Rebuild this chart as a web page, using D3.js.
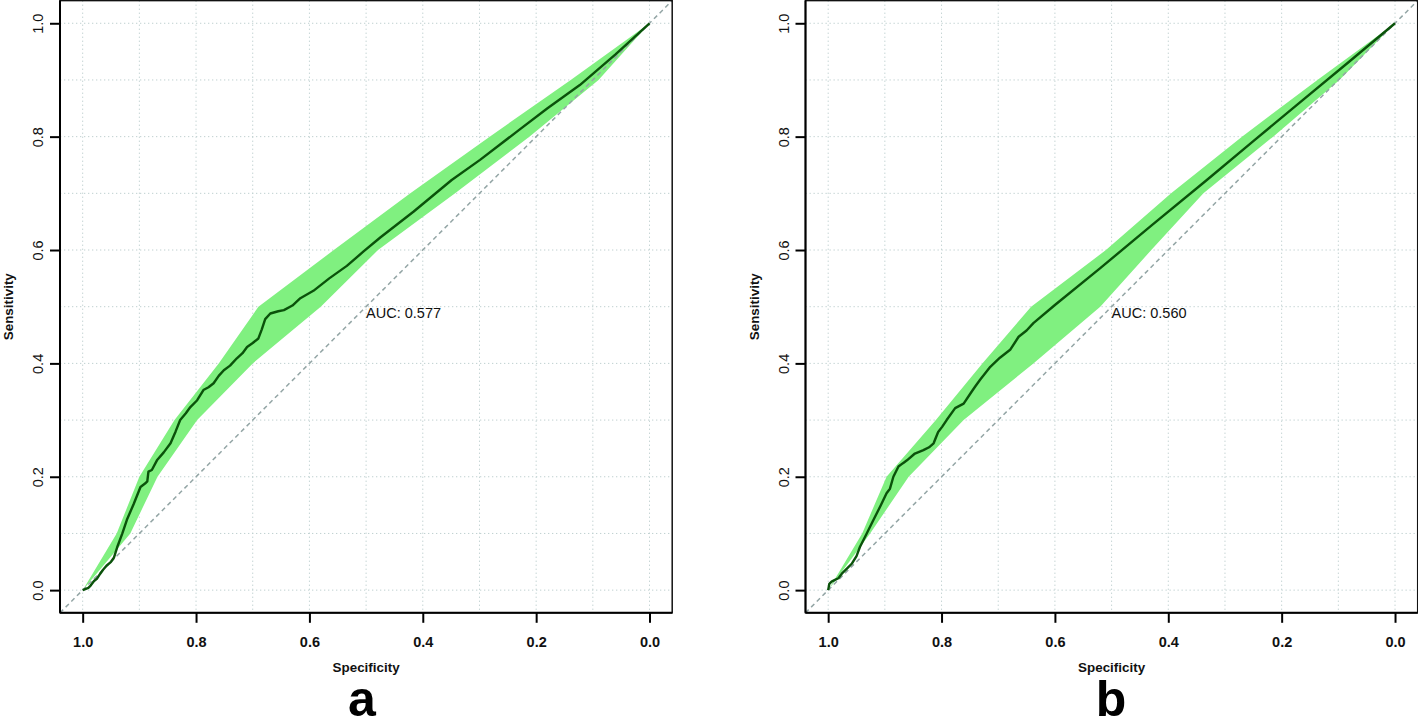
<!DOCTYPE html>
<html>
<head>
<meta charset="utf-8">
<script src="https://cdn.jsdelivr.net/npm/d3@7"></script>
<style>
  html, body { margin: 0; padding: 0; background: #fff; }
  svg { display: block; font-family: "Liberation Sans", Arial, Helvetica, sans-serif; }
</style>
</head>
<body>
<svg id="chart" width="1418" height="719"></svg>
<script>
// ---------------- DATA ----------------
// Panel a: ROC curve (specificity, sensitivity)
const specA = [1.000,0.990,0.986,0.980,0.975,0.969,0.964,0.958,0.950,0.945,0.939,0.930,0.922,0.910,0.898,0.890,0.886,0.884,0.878,0.869,0.857,0.845,0.836,0.828,0.818,0.810,0.798,0.787,0.778,0.769,0.760,0.751,0.740,0.728,0.718,0.710,0.700,0.690,0.684,0.678,0.669,0.655,0.645,0.630,0.616,0.593,0.565,0.534,0.505,0.475,0.416,0.349,0.299,0.230,0.180,0.123,0.060,0.000];
const sensA = [0.000,0.004,0.008,0.016,0.020,0.029,0.036,0.043,0.050,0.057,0.076,0.100,0.124,0.152,0.182,0.188,0.192,0.209,0.212,0.229,0.243,0.259,0.280,0.300,0.312,0.323,0.335,0.353,0.358,0.365,0.378,0.388,0.396,0.409,0.418,0.429,0.436,0.444,0.460,0.478,0.488,0.492,0.494,0.502,0.515,0.528,0.550,0.572,0.597,0.622,0.668,0.7235,0.759,0.812,0.850,0.891,0.945,1.000];
// Panel b: ROC curve
const specB = [1.000,0.998,0.994,0.988,0.982,0.976,0.967,0.958,0.950,0.944,0.932,0.920,0.908,0.897,0.891,0.885,0.876,0.868,0.861,0.847,0.832,0.822,0.814,0.806,0.799,0.791,0.776,0.761,0.747,0.740,0.732,0.714,0.697,0.679,0.664,0.650,0.638,0.600,0.520,0.430,0.332,0.250,0.173,0.080,0.000];
const sensB = [0.000,0.011,0.015,0.018,0.021,0.029,0.038,0.047,0.060,0.076,0.100,0.124,0.148,0.171,0.179,0.200,0.218,0.224,0.229,0.241,0.247,0.252,0.259,0.279,0.288,0.300,0.321,0.329,0.350,0.360,0.371,0.394,0.410,0.424,0.447,0.458,0.471,0.503,0.568,0.643,0.7235,0.792,0.856,0.933,1.000];
// Confidence band of specificity at fixed sensitivities
const ciSens     = [0, 0.1, 0.2, 0.3, 0.4, 0.5, 0.6, 0.7, 0.8, 0.9, 1.0];
const ciSpecHighA = [1.000,0.940,0.900,0.838,0.760,0.690,0.557,0.422,0.282,0.139,0.000];
const ciSpecLowA  = [1.000,0.916,0.868,0.798,0.700,0.580,0.479,0.343,0.212,0.090,0.000];
const ciSpecHighB = [1.000,0.940,0.897,0.810,0.728,0.642,0.510,0.395,0.270,0.137,0.000];
const ciSpecLowB  = [1.000,0.926,0.858,0.761,0.638,0.520,0.430,0.338,0.215,0.098,0.000];
const aucLabels = ["AUC: 0.577", "AUC: 0.560"];
const panelLetters = ["a", "b"];
const tickValues = [0, 0.2, 0.4, 0.6, 0.8, 1.0];
const gridValues = [0,0.1,0.2,0.3,0.4,0.5,0.6,0.7,0.8,0.9,1.0];
const xTitle = "Specificity";
const yTitle = "Sensitivity";

// ---------------- DRAW ----------------
const svg = d3.select("#chart");
const panels = [
  { left: 60,    spec: specA, sens: sensA, hi: ciSpecHighA, lo: ciSpecLowA, auc: aucLabels[0], letter: panelLetters[0], letterX: 362 },
  { left: 805.5, spec: specB, sens: sensB, hi: ciSpecHighB, lo: ciSpecLowB, auc: aucLabels[1], letter: panelLetters[1], letterX: 1111 }
];
const plotSize = 612.2, plotTop = 0.6;

panels.forEach(p => {
  const x = d3.scaleLinear().domain([1.04, -0.04]).range([p.left, p.left + plotSize]);
  const y = d3.scaleLinear().domain([-0.04, 1.04]).range([plotTop + plotSize, plotTop]);
  const g = svg.append("g");

  // grid
  g.append("g").selectAll("line").data(gridValues).join("line")
    .attr("x1", d => x(d)).attr("x2", d => x(d))
    .attr("y1", plotTop).attr("y2", plotTop + plotSize)
    .attr("stroke", "#bfd0d0").attr("stroke-width", 1).attr("stroke-dasharray", "1.3,2.7");
  g.append("g").selectAll("line").data(gridValues).join("line")
    .attr("y1", d => y(d)).attr("y2", d => y(d))
    .attr("x1", p.left).attr("x2", p.left + plotSize)
    .attr("stroke", "#bfd0d0").attr("stroke-width", 1).attr("stroke-dasharray", "1.3,2.7");

  // CI band
  const band = ciSens.map((s, i) => ({ s, hi: p.hi[i], lo: p.lo[i] }));
  g.append("path").datum(band)
    .attr("d", d3.area().y(d => y(d.s)).x0(d => x(d.lo)).x1(d => x(d.hi)).curve(d3.curveLinear))
    .attr("fill", "#80f080").attr("stroke", "none");

  // diagonal reference
  g.append("line")
    .attr("x1", x(1.04)).attr("y1", y(-0.04)).attr("x2", x(-0.04)).attr("y2", y(1.04))
    .attr("stroke", "#93a5a5").attr("stroke-width", 1.5).attr("stroke-dasharray", "4.5,3.5");

  // ROC curve
  const pts = p.spec.map((s, i) => [s, p.sens[i]]);
  g.append("path").datum(pts)
    .attr("d", d3.line().x(d => x(d[0])).y(d => y(d[1])))
    .attr("fill", "none").attr("stroke", "#0a520a").attr("stroke-width", 2.4)
    .attr("stroke-linejoin", "round");

  // box
  g.append("rect").attr("x", p.left).attr("y", plotTop).attr("width", plotSize).attr("height", plotSize)
    .attr("fill", "none").attr("stroke", "#111").attr("stroke-width", 1.5);

  // axes
  const xAxis = d3.axisBottom(x).tickValues(tickValues).tickSize(10).tickPadding(14)
    .tickFormat(d3.format(".1f"));
  const gx = g.append("g").attr("transform", `translate(0,${plotTop + plotSize})`).call(xAxis);
  gx.select(".domain").attr("d", `M${p.left},0H${p.left + plotSize}`).attr("stroke", "#000").attr("stroke-width", 2);
  gx.selectAll(".tick line").attr("stroke", "#000").attr("stroke-width", 2);
  gx.selectAll(".tick text").attr("font-size", 14.5).attr("font-weight", "bold").attr("fill", "#111")
    .attr("font-family", "'Liberation Sans', Arial, sans-serif");

  const yAxis = d3.axisLeft(y).tickValues(tickValues).tickSize(10).tickPadding(0)
    .tickFormat(d3.format(".1f"));
  const gy = g.append("g").attr("transform", `translate(${p.left},0)`).call(yAxis);
  gy.select(".domain").attr("d", `M0,${plotTop}V${plotTop + plotSize}`).attr("stroke", "#000").attr("stroke-width", 2);
  gy.selectAll(".tick line").attr("stroke", "#000").attr("stroke-width", 2);
  gy.selectAll(".tick text")
    .attr("font-size", 14.5).attr("fill", "#111")
    .attr("font-family", "'Liberation Sans', Arial, sans-serif")
    .attr("text-anchor", "middle").attr("dy", null).attr("x", null)
    .attr("transform", "translate(-22,0) rotate(-90)")
    .attr("y", 5);

  // AUC text (top-left anchored at spec 0.5, sens 0.5)
  g.append("text").attr("x", x(0.5)).attr("y", y(0.5) + 11)
    .attr("font-size", 14.5).attr("fill", "#111").text(p.auc);

  // axis titles
  g.append("text").attr("x", p.left + plotSize / 2).attr("y", 671.5)
    .attr("text-anchor", "middle").attr("font-size", 13.4).attr("font-weight", "bold").attr("fill", "#111")
    .text(xTitle);
  g.append("text")
    .attr("transform", `translate(${p.left - 47},${plotTop + plotSize / 2}) rotate(-90)`)
    .attr("text-anchor", "middle").attr("font-size", 13.4).attr("font-weight", "bold").attr("fill", "#111")
    .text(yTitle);

  // panel letter
  g.append("text").attr("x", p.letterX).attr("y", 716)
    .attr("text-anchor", "middle").attr("font-size", 50).attr("font-weight", "bold").attr("fill", "#000")
    .text(p.letter);
});
</script>
</body>
</html>
